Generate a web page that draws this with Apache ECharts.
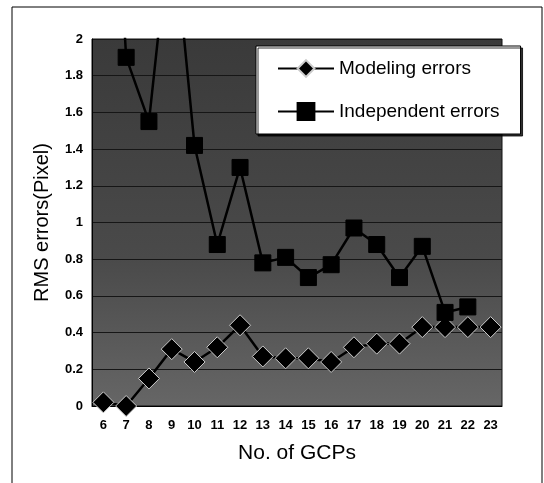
<!DOCTYPE html>
<html><head><meta charset="utf-8">
<script src="https://cdn.jsdelivr.net/npm/echarts@6/dist/echarts.min.js"></script>
<style>html,body{margin:0;padding:0;background:#fff}#c{width:544px;height:483px}</style>
</head><body><div id="c"></div>
<script>
const categories = ['6','7','8','9','10','11','12','13','14','15','16','17','18','19','20','21','22','23'];
const modelingErrors = [0.02, 0.0, 0.15, 0.31, 0.24, 0.32, 0.44, 0.27, 0.26, 0.26, 0.24, 0.32, 0.34, 0.34, 0.43, 0.43, 0.43, 0.43];
const independentErrors = [4.0, 1.9, 1.55, 2.7, 1.42, 0.88, 1.3, 0.78, 0.81, 0.70, 0.77, 0.97, 0.88, 0.70, 0.87, 0.51, 0.54, null];
const yTicks = ['0','0.2','0.4','0.6','0.8','1','1.2','1.4','1.6','1.8','2'];

const chart = echarts.init(document.getElementById('c'));
chart.setOption({
  animation: false,
  backgroundColor: '#fff',
  graphic: [
    {type:'line', shape:{x1:12,y1:7,x2:542,y2:7}, style:{stroke:'#000',lineWidth:1}},
    {type:'line', shape:{x1:12,y1:7,x2:12,y2:483}, style:{stroke:'#000',lineWidth:1}},
    {type:'line', shape:{x1:542,y1:7,x2:542,y2:483}, style:{stroke:'#000',lineWidth:1}}
  ],
  grid: {
    left: 92, right: 42, top: 39, bottom: 77,
    show: true,
    backgroundColor: new echarts.graphic.LinearGradient(0,0,0,1,[
      {offset:0,color:'#3a3a3a'},{offset:0.6,color:'#4a4a4a'},{offset:1,color:'#666'}]),
    borderColor: '#111', borderWidth: 1
  },
  legend: {
    left: 256, top: 46,
    orient: 'vertical',
    backgroundColor: '#fff', borderColor: '#000', borderWidth: 1,
    padding: [13, 21, 13, 21],
    itemGap: 24, itemWidth: 56, itemHeight: 21,
    shadowColor: 'rgba(0,0,0,0.8)', shadowOffsetX: 2, shadowOffsetY: 2, shadowBlur: 0,
    textStyle: {fontFamily: 'Liberation Sans, Arial', fontSize: 19, color: '#000'},
    data: ['Modeling errors', 'Independent errors']
  },
  xAxis: {
    type: 'category', data: categories, boundaryGap: true,
    name: 'No. of GCPs', nameLocation: 'middle', nameGap: 37,
    nameTextStyle: {fontFamily: 'Liberation Sans, Arial', fontSize: 21, color: '#000'},
    axisLine: {show: true, lineStyle: {color: '#000'}},
    axisTick: {show: false},
    axisLabel: {fontFamily: 'Liberation Sans, Arial', fontSize: 13, fontWeight: 'bold', color: '#000', margin: 13, interval: 0},
    splitLine: {show: false}
  },
  yAxis: {
    type: 'value', min: 0, max: 2, interval: 0.2,
    name: 'RMS errors(Pixel)', nameLocation: 'middle', nameGap: 40,
    nameTextStyle: {fontFamily: 'Liberation Sans, Arial', fontSize: 20, color: '#000'},
    axisLine: {show: true, lineStyle: {color: '#000'}},
    axisTick: {show: false},
    axisLabel: {fontFamily: 'Liberation Sans, Arial', fontSize: 13, fontWeight: 'bold', color: '#000', margin: 9,
      formatter: (v, i) => yTicks[i]},
    splitLine: {show: true, lineStyle: {color: '#161616', width: 1}}
  },
  series: [
    {
      name: 'Modeling errors', type: 'line', data: modelingErrors,
      symbol: 'diamond', symbolSize: 21, showAllSymbol: true,
      lineStyle: {color: '#000', width: 2.5},
      itemStyle: {color: '#000', borderColor: '#ccc', borderWidth: 1}
    },
    {
      name: 'Independent errors', type: 'line', data: independentErrors,
      symbol: 'rect', symbolSize: 16, showAllSymbol: true, connectNulls: false,
      lineStyle: {color: '#000', width: 2.5},
      itemStyle: {color: '#000', borderColor: '#000', borderWidth: 1}
    }
  ]
});
</script></body></html>
